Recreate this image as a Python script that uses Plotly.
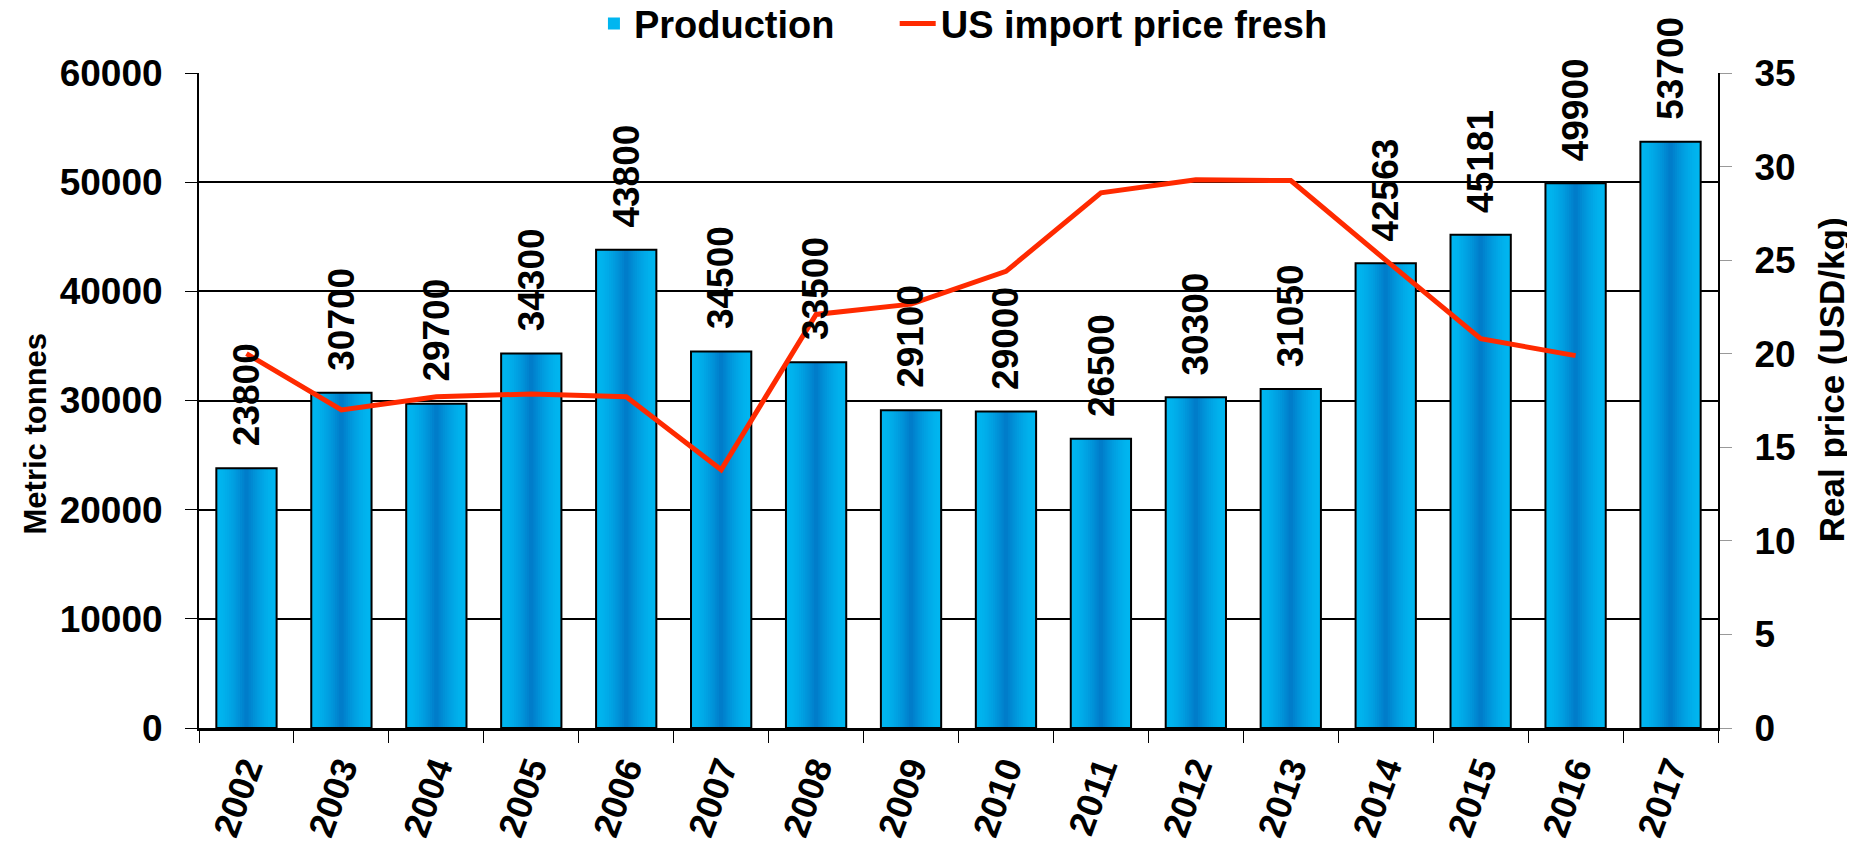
import plotly.graph_objects as go

years = ["2002", "2003", "2004", "2005", "2006", "2007", "2008", "2009",
         "2010", "2011", "2012", "2013", "2014", "2015", "2016", "2017"]
production = [23800, 30700, 29700, 34300, 43800, 34500, 33500, 29100,
              29000, 26500, 30300, 31050, 42563, 45181, 49900, 53700]
price = [20.0, 17.0, 17.7, 17.85, 17.7, 13.8, 22.1, 22.65,
         24.4, 28.6, 29.3, 29.25, 25.0, 20.8, 19.9, None]
# pixel gap between each bar top and its rotated value label (style)
LABEL_GAP = 21

FONT = "Liberation Sans, Arial, sans-serif"
BAR_W = 0.635
N = 14
light = (0, 182, 240)
dark = (0, 125, 202)

fig = go.Figure()
for k in range(N):
    t = (k / (N - 1)) ** 1.6
    c = tuple(round(light[i] + (dark[i] - light[i]) * t) for i in range(3))
    w = BAR_W * (1 - k / N)
    fig.add_trace(go.Bar(
        x=years, y=production, width=w,
        marker=dict(color="rgb(%d,%d,%d)" % c, line=dict(width=0)),
        name="Production", showlegend=(k == 0), legendgroup="prod",
        hoverinfo="skip" if k else None,
    ))
fig.add_trace(go.Bar(
    x=years, y=production, width=BAR_W,
    marker=dict(color="rgba(0,0,0,0)", line=dict(color="black", width=2)),
    showlegend=False, legendgroup="prod", name="Production", hoverinfo="skip",
))
fig.add_trace(go.Scatter(
    x=years, y=price, yaxis="y2", mode="lines", name="US import price fresh",
    line=dict(color="#ff2a00", width=5), legend="legend2",
))

for i, v in enumerate(production):
    fig.add_annotation(
        x=i, y=v, xref="x", yref="y", text=str(v), showarrow=False,
        textangle=-90, yanchor="bottom", xanchor="center", yshift=LABEL_GAP,
        font=dict(family=FONT, size=37, color="black", weight="bold"),
        borderpad=0,
    )

# axis titles placed as annotations (offset like the reference)
fig.add_annotation(x=-0.1076, y=0.449, xref="paper", yref="paper", text="Metric tonnes",
                   showarrow=False, textangle=-90, xanchor="center", yanchor="middle",
                   font=dict(family=FONT, size=31, color="black", weight="bold"))
fig.add_annotation(x=1.0744, y=0.531, xref="paper", yref="paper", text="Real price (USD/kg)",
                   showarrow=False, textangle=-90, xanchor="center", yanchor="middle",
                   font=dict(family=FONT, size=35, color="black", weight="bold"))

# the page body adds an 8px margin, so the figure is sized/margined to compensate
fig.update_layout(
    width=1847, height=833,
    barmode="overlay", bargap=0.365,
    paper_bgcolor="white", plot_bgcolor="white",
    margin=dict(l=191, r=137, t=65, b=113, autoexpand=False),
    font=dict(family=FONT, color="black", weight="bold"),
    legend=dict(orientation="h", x=0.26, xanchor="left", y=1.075, yanchor="middle",
                font=dict(size=38, family=FONT, weight="bold"), traceorder="normal"),
    legend2=dict(orientation="h", x=0.458, xanchor="left", y=1.075, yanchor="middle",
                 font=dict(size=38, family=FONT, weight="bold"), itemwidth=36),
    xaxis=dict(
        type="category", showline=True, linecolor="black", linewidth=3,
        ticks="outside", tickson="boundaries", ticklen=12, tickcolor="black",
        tickangle=-70, tickfont=dict(size=36, family=FONT, weight="bold"),
        ticklabelstandoff=2, automargin=False,
        showgrid=False, range=[-0.5, 15.5],
    ),
    yaxis=dict(
        range=[0, 60000], tickvals=[0, 10000, 20000, 30000, 40000, 50000, 60000],
        ticktext=["0", "10000", "20000", "30000", "40000", "50000", "60000"],
        showgrid=True, gridcolor="black", gridwidth=1.5,
        showline=True, linecolor="black", linewidth=2,
        ticks="outside", ticklen=12, tickcolor="black", automargin=False,
        tickfont=dict(size=37, family=FONT, weight="bold"), ticklabelstandoff=15,
        zeroline=False,
    ),
    yaxis2=dict(
        overlaying="y", side="right", range=[0, 35],
        tickvals=[0, 5, 10, 15, 20, 25, 30, 35],
        showgrid=False, showline=True, linecolor="black", linewidth=2,
        ticks="outside", ticklen=12, tickcolor="#999999", automargin=False,
        tickfont=dict(size=37, family=FONT, weight="bold"), ticklabelstandoff=15,
        zeroline=False,
    ),
)

fig.write_html("out.html")
